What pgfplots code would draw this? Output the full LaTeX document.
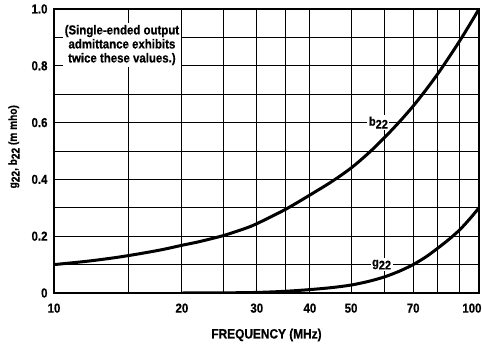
\documentclass[border=0pt]{standalone}
\usepackage{fontspec}
\setmainfont{Liberation Sans Bold}[FakeStretch=0.88, FakeBold=0.6]
\usepackage{pgfplots}
\pgfplotsset{compat=1.18}
\newcommand{\sub}[1]{\raisebox{-0.45ex}{#1}}
\begin{document}
\begin{tikzpicture}
\begin{axis}[
  name=a,
  scale only axis,
  width=425pt, height=284pt,
  xmode=log,
  xmin=10, xmax=100, ymin=0, ymax=1.0,
  xtick={10,20,30,40,50,70},
  xticklabels={10,20,30,40,50,70},
  extra x ticks={100},
  extra x tick labels={100},
  extra x tick style={grid=none, xticklabel style={anchor=north east, xshift=6pt}},
  minor xtick={15,25,35,60,80,90},
  ytick={0,0.2,0.4,0.6,0.8,1.0},
  yticklabels={0,0.2,0.4,0.6,0.8,1.0},
  minor ytick={0.1,0.3,0.5,0.7,0.9},
  grid=both,
  major grid style={black, line width=0.9pt},
  minor grid style={black, line width=0.9pt},
  major tick length=0pt, minor tick length=0pt,
  axis line style={line width=1.6pt},
  tick label style={font=\fontsize{13}{14}\selectfont},
  xticklabel style={yshift=-7pt},
  yticklabel style={xshift=-3pt},
  xlabel={FREQUENCY (MHz)},
  xlabel style={font=\fontsize{13.5}{14}\selectfont, at={(axis description cs:0.5,0)}, anchor=center, yshift=-42pt},
  ylabel={g\sub{22}, b\sub{22} (m mho)},
  ylabel style={font=\fontsize{11.5}{12}\selectfont, at={(axis description cs:0,0.515)}, anchor=center, yshift=40pt},
  clip=true,
]
\addplot[black, line width=3pt, smooth] coordinates {
 (10,0.1) (12,0.112) (14,0.125) (16,0.139) (18,0.153) (20,0.168) (22,0.181) (25,0.202)
 (28,0.226) (30,0.244) (35,0.294) (40,0.345) (45,0.392) (50,0.44) (55,0.493) (60,0.548)
 (65,0.603) (70,0.658) (75,0.715) (80,0.772) (85,0.83) (90,0.887) (95,0.944) (100,1.0)};
\addplot[black, line width=3pt, smooth] coordinates {
 (20,0) (25,0.0005) (30,0.002) (35,0.006) (40,0.012) (45,0.019) (50,0.028) (55,0.041)
 (60,0.057) (65,0.077) (70,0.1) (75,0.127) (80,0.158) (85,0.189) (90,0.222) (95,0.26) (100,0.30)};
\node[fill=white, inner sep=1.5pt, font=\fontsize{12.5}{13}\selectfont] at (axis cs:58,0.6) {b\sub{22}};
\node[fill=white, inner sep=1.5pt, font=\fontsize{12.5}{13}\selectfont] at (axis cs:59,0.1) {g\sub{22}};
\node[fill=white, inner sep=2pt, align=center, font=\fontsize{13}{14}\selectfont] at (axis cs:14.45,0.873) {(Single-ended output\\admittance exhibits\\twice these values.)};
\end{axis}
\pgfresetboundingbox
\path[use as bounding box] ([xshift=-54pt,yshift=-53pt]a.south west) rectangle ([xshift=3pt,yshift=9pt]a.north east);
\end{tikzpicture}
\end{document}
